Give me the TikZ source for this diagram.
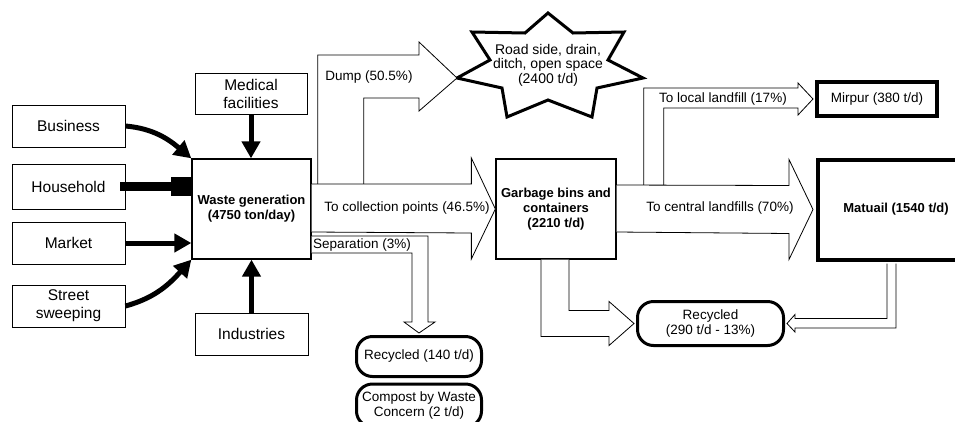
\documentclass[tikz,border=0pt]{standalone}
\usepackage{fontspec}
\setmainfont{Liberation Sans}
\usepackage{tikz}
\usetikzlibrary{calc}
\usetikzlibrary{arrows.meta}
\usetikzlibrary{positioning}
\tikzset{source/.style={draw=black!100, line width=0.8pt, minimum width=113pt, minimum height=42pt, align=center, inner sep=1pt, font=\fontsize{15.5}{18}\selectfont}}
\tikzset{hub/.style={draw=black!100, line width=1.3pt, minimum width=119pt, minimum height=100pt, align=center, inner sep=0pt, font=\bfseries\fontsize{13}{15}\selectfont}}
\tikzset{landfill/.style={draw=black!100, line width=4pt, align=center, inner sep=0pt}}
\tikzset{recycle/.style={draw=black!100, line width=3pt, rounded corners=16pt, minimum width=125pt, minimum height=40pt, align=center, inner sep=0pt}}
\tikzset{flow/.style={draw=black!100, fill=white, line width=0.8pt, line join=miter}}
\tikzset{feed/.style={line width=5pt, -{Triangle[length=17pt,width=18pt]}}}

\begin{document}
\begin{tikzpicture}[x=1pt,y=-1pt,font=\fontsize{13.5}{15}\selectfont]
\useasboundingbox (0,0) rectangle (955,421);
\clip (0,0) rectangle (955,421);

    % sources
    \node[source] (business) at (68.5,126) {Business};
    \node[source, minimum height=45pt] (household) at (68.5,186.5) {Household};
    \node[source] (market) at (68.5,243) {Market};
    \node[source] (street) at (68.5,306) {Street\\sweeping};
    \node[source, minimum width=112pt, minimum height=41pt] (medical) at (251,93.5) {Medical\\facilities};
    \node[source] (industries) at (251.5,334) {Industries};

    % collection and disposal
    \node[hub] (waste) at (251.5,209) {Waste generation\\(4750 ton/day)};
    \node[hub, minimum width=120pt] (bins) at (556,209) {Garbage bins and\\containers\\(2210 t/d)};
    \node[landfill, minimum width=120pt, minimum height=34pt] (mirpur) at (877,99) {Mirpur (380 t/d)};
    \node[landfill, minimum width=157pt, minimum height=100pt, font=\bfseries\fontsize{13}{15}\selectfont] (matuail) at (896,209.5) {Matuail (1540 t/d)};
    \node[recycle] (rec140) at (419,356.5) {Recycled (140 t/d)};
    \node[recycle, minimum height=43pt] (compost) at (419,405.5) {Compost by Waste\\Concern (2 t/d)};
    \node[recycle, minimum width=146pt, minimum height=44pt] (rec290) at (710.5,323.5) {Recycled\\(290 t/d - 13\%)};

    % dumping site
    \node[align=center, font=\fontsize{14}{14.5}\selectfont] (road) at (548,65) {Road side, drain,\\ditch, open space\\(2400 t/d)};
    \draw[line width=3pt, line join=miter, shift={(road.center)}] (0,-52) -- (25,-32) -- (76,-33) -- (60,-5) -- (95,13) -- (49,23) -- (44,52) -- (0,35) -- (-41,52) -- (-46,23) -- (-91,13) -- (-58,-5) -- (-76,-33) -- (-23,-32) -- cycle;
    \coordinate (roadtip) at ($(road)+(-91,13)$);

    % inputs
    \draw[feed] (business.east) to[out=-5,in=140] (waste.north west);
    \draw[line width=9pt, -{Rectangle[length=20pt,width=19pt]}] ([xshift=-5pt]household.east) -- (household.east -| waste.west);
    \draw[feed] (market.east) -- (market.east -| waste.west);
    \draw[feed] (street.east) to[out=15,in=228] (waste.south west);
    \draw[feed] (medical.south) -- (medical.south |- waste.north);
    \draw[feed] (industries.north) -- (industries.north |- waste.south);

    % flows
    \coordinate (mirtip) at ([xshift=-2pt]mirpur.west);
    \coordinate (mattip) at ([xshift=-2.5pt]matuail.west);
    \coordinate (septip) at ([yshift=2pt]rec140.north);
    \coordinate (rectip) at ([xshift=-2pt]rec290.west);
    \coordinate (rectipb) at ([xshift=2pt]rec290.east);

    \draw[flow] ($(waste.east)+(6,-25)$) |- ($(roadtip)+(-38,-23)$) -- ++(0,-13) -- (roadtip) -- ++(-38,33) -- ++(0,-13) -| ($(waste.east)+(52,-25)$);
    \draw[flow] ($(bins.east)+(27,-24)$) |- ($(mirtip)+(-15,-11)$) -- ++(0,-5) -- (mirtip) -- ++(-15,16) -- ++(0,-7) -| ($(bins.east)+(47,-24)$);
    \draw[flow] ($(waste.east)+(0,-25)$) -- ($(bins.west)+(-24,-25)$) -- ++(0,-26) -- (bins.west) -- ++(-24,50) -- ++(0,-26) -- ($(waste.east)+(0,23)$);
    \draw[flow] ($(bins.east)+(0,-24)$) -- ($(mattip)+(-24,-24)$) -- ++(0,-26) -- (mattip) -- ++(-24,50) -- ++(0,-26) -- ($(bins.east)+(0,23)$);
    \draw[flow] ($(waste.east)+(0,27)$) -| ($(septip)+(9,-11)$) -- ++(7,0) -- (septip) -- ++(-15,-11) -- ++(8,0) |- ($(waste.east)+(0,44)$);
    \draw[flow] ($(bins.south)+(-15,0)$) |- ($(rectip)+(-25,13)$) -- ++(0,9) -- (rectip) -- ++(-25,-22) -- ++(0,9) -| ($(bins.south)+(13,0)$);
    \draw[flow] ($(matuail.south)+(-9,2)$) |- ($(rectipb)+(8,-5)$) -- ++(0,-4) -- (rectipb) -- ++(8,8.5) -- ++(0,-4) -| ($(matuail.south)+(0,2)$);

    % flow labels
    \node (dumptext) at (369,77) {Dump (50.5\%)};
    \node (colltext) at (407,208) {To collection points (46.5\%)};
    \node (septext) at (362,245) {Separation (3\%)};
    \node (localtext) at (723,99) {To local landfill (17\%)};
    \node (centraltext) at (720,208) {To central landfills (70\%)};

\end{tikzpicture}
\end{document}
